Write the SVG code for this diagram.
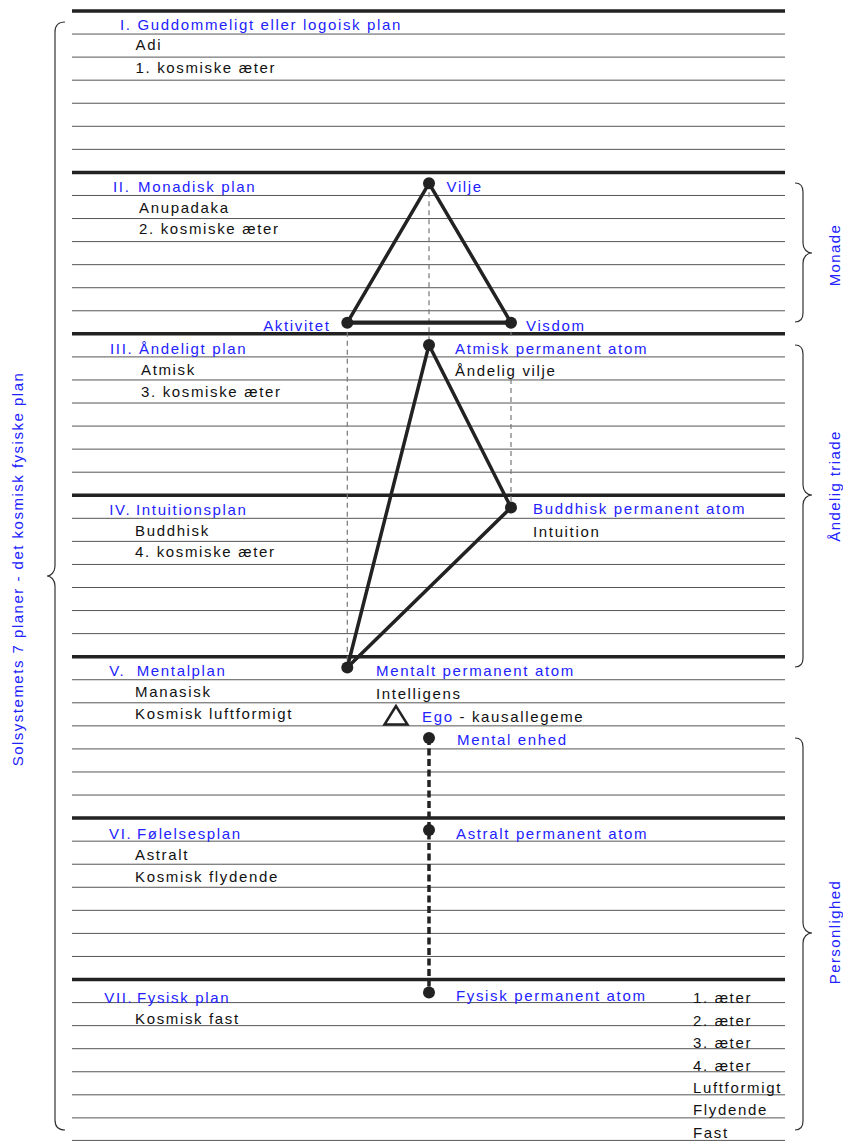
<svg xmlns="http://www.w3.org/2000/svg" width="843" height="1141" viewBox="0 0 843 1141">
<defs>
<style>
text{font-family:"Liberation Sans",Arial,sans-serif;font-size:15px;letter-spacing:1.65px}
.b{fill:#2222ff}
.k{fill:#111}
.thin{stroke:#555;stroke-width:1;fill:none}
.thick{stroke:#222;stroke-width:3.5;fill:none}
.brace{stroke:#333;stroke-width:1.2;fill:none}
.edge{stroke:#222;stroke-width:3.5;fill:none;stroke-linecap:round}
.guide{stroke:#777;stroke-width:1.2;stroke-dasharray:5 4;fill:none}
.chain{stroke:#222;stroke-width:3.5;stroke-dasharray:7 3.5;fill:none}
.dot{fill:#222}
.rl{letter-spacing:1.4px}
</style>
</defs>
<rect width="843" height="1141" fill="#fff"/>

<g id="plane-lines">
<path class="thin" d="M72,34.06H785M72,57.12H785M72,80.18H785M72,103.24H785M72,126.3H785M72,149.36H785
M72,195.48H785M72,218.54H785M72,241.6H785M72,264.66H785M72,287.72H785M72,310.78H785
M72,356.9H785M72,379.96H785M72,403.02H785M72,426.08H785M72,449.14H785M72,472.2H785
M72,518.32H785M72,541.38H785M72,564.44H785M72,587.5H785M72,610.56H785M72,633.62H785
M72,679.74H785M72,702.8H785M72,725.86H785M72,748.92H785M72,771.98H785M72,795.04H785
M72,841.16H785M72,864.22H785M72,887.28H785M72,910.34H785M72,933.4H785M72,956.46H785
M72,1002.58H785M72,1025.64H785M72,1048.7H785M72,1071.76H785M72,1094.82H785M72,1117.88H785M72,1140.4H785"/>
<path class="thick" d="M72,11H785M72,172.42H785M72,333.84H785M72,495.26H785M72,656.68H785M72,818.1H785M72,979.52H785"/>
</g>

<g id="plane-1">
<text class="b" x="120" y="30">I. Guddommeligt eller logoisk plan</text>
<text class="k" x="135.5" y="50">Adi</text>
<text class="k" x="135.5" y="73">1. kosmiske æter</text>
</g>
<g id="plane-2">
<text class="b" y="191.5"><tspan x="113">II.</tspan><tspan x="138">Monadisk plan</tspan></text>
<text class="k" x="139" y="212.5">Anupadaka</text>
<text class="k" x="139" y="234">2. kosmiske æter</text>
</g>
<g id="plane-3">
<text class="b" y="354"><tspan x="110">III.</tspan><tspan x="139">Åndeligt plan</tspan></text>
<text class="k" x="141" y="375">Atmisk</text>
<text class="k" x="141" y="397">3. kosmiske æter</text>
</g>
<g id="plane-4">
<text class="b" y="514.5"><tspan x="109.3">IV.</tspan><tspan x="136">Intuitionsplan</tspan></text>
<text class="k" x="135" y="535.5">Buddhisk</text>
<text class="k" x="135" y="557">4. kosmiske æter</text>
</g>
<g id="plane-5">
<text class="b" y="676"><tspan x="109.3">V.</tspan><tspan x="136.7">Mentalplan</tspan></text>
<text class="k" x="135" y="697">Manasisk</text>
<text class="k" x="135" y="718.5">Kosmisk luftformigt</text>
</g>
<g id="plane-6">
<text class="b" y="838.5"><tspan x="109">VI.</tspan><tspan x="137">Følelsesplan</tspan></text>
<text class="k" x="135" y="859.5">Astralt</text>
<text class="k" x="135" y="881.5">Kosmisk flydende</text>
</g>
<g id="plane-7">
<text class="b" y="1002.5"><tspan x="104.3">VII.</tspan><tspan x="137">Fysisk plan</tspan></text>
<text class="k" x="135" y="1023.5">Kosmisk fast</text>
<text class="k" x="693" y="1003">1. æter</text>
<text class="k" x="693" y="1025.5">2. æter</text>
<text class="k" x="693" y="1047.5">3. æter</text>
<text class="k" x="693" y="1070.5">4. æter</text>
<text class="k" x="693" y="1092.5">Luftformigt</text>
<text class="k" x="693" y="1115">Flydende</text>
<text class="k" x="693" y="1137.5">Fast</text>
</g>

<g id="connectors">
<line class="guide" x1="429" y1="183.3" x2="429" y2="345"/>
<line class="guide" x1="347.3" y1="322.7" x2="347.3" y2="667.5"/>
<line class="guide" x1="511" y1="322.7" x2="511" y2="336"/>
<line class="guide" x1="511" y1="379" x2="511" y2="507.5"/>
<line class="edge" x1="429" y1="183.3" x2="347.3" y2="322.7"/>
<line class="edge" x1="429" y1="183.3" x2="511" y2="322.7"/>
<line class="edge" x1="347.3" y1="322.7" x2="511" y2="322.7" style="stroke-width:4.2"/>
<line class="edge" x1="429" y1="345" x2="511" y2="507.5"/>
<line class="edge" x1="429" y1="345" x2="347.3" y2="667.5"/>
<line class="edge" x1="511" y1="507.5" x2="347.3" y2="667.5"/>
<line class="chain" x1="429" y1="738" x2="429" y2="992.5"/>
</g>

<g id="node-vilje"><circle class="dot" cx="429" cy="183.3" r="6"/><text class="b" x="446.5" y="191.5">Vilje</text></g>
<g id="node-aktivitet"><circle class="dot" cx="347.3" cy="322.7" r="6"/><text class="b" x="330.5" y="330.5" text-anchor="end">Aktivitet</text></g>
<g id="node-visdom"><circle class="dot" cx="511" cy="322.7" r="6"/><text class="b" x="526" y="330.5">Visdom</text></g>
<g id="node-atmisk"><circle class="dot" cx="429" cy="345" r="6"/><text class="b" x="455" y="354">Atmisk permanent atom</text><text class="k" x="455" y="376">Åndelig vilje</text></g>
<g id="node-buddhisk"><circle class="dot" cx="511" cy="507.5" r="6"/><text class="b" x="533" y="514">Buddhisk permanent atom</text><text class="k" x="533" y="536.5">Intuition</text></g>
<g id="node-mentalt"><circle class="dot" cx="347.3" cy="667.5" r="6"/><text class="b" x="376" y="676">Mentalt permanent atom</text><text class="k" x="376" y="698.5">Intelligens</text></g>
<g id="node-ego"><path d="M396,706L384.5,724.5H407.5Z" fill="none" stroke="#222" stroke-width="2.5" stroke-linejoin="miter"/><text x="422" y="722"><tspan class="b">Ego</tspan><tspan class="k"> - kausallegeme</tspan></text></g>
<g id="node-mental-enhed"><circle class="dot" cx="429" cy="738" r="6"/><text class="b" x="457" y="745">Mental enhed</text></g>
<g id="node-astralt"><circle class="dot" cx="429" cy="830" r="6"/><text class="b" x="456" y="838.5">Astralt permanent atom</text></g>
<g id="node-fysisk"><circle class="dot" cx="429" cy="992.5" r="6"/><text class="b" x="456" y="1001">Fysisk permanent atom</text></g>

<g id="brace-solsystem">
<path class="brace" d="M65,22C58,22 55,25 55,32L55,566C55,572 51,576 47,576C51,576 55,580 55,586L55,1120C55,1127 58,1130 65,1130"/>
<text class="b" transform="translate(23,569) rotate(-90)" text-anchor="middle" style="letter-spacing:1.5px">Solsystemets 7 planer - det kosmisk fysiske plan</text>
</g>
<g id="brace-monade">
<path class="brace" d="M795,183C800,183 803,186 803,192L803,243C803,249 807,253 812,253C807,253 803,257 803,263L803,313C803,319 800,322 795,322"/>
<text class="b rl" transform="translate(840,255) rotate(-90)" text-anchor="middle">Monade</text>
</g>
<g id="brace-triade">
<path class="brace" d="M795,345C800,345 803,348 803,354L803,485C803,491 807,495 812,495C807,495 803,499 803,505L803,658C803,664 800,667 795,667"/>
<text class="b rl" transform="translate(840,486) rotate(-90)" text-anchor="middle">Åndelig triade</text>
</g>
<g id="brace-personlighed">
<path class="brace" d="M795,738C800,738 803,741 803,747L803,923C803,929 807,933 812,933C807,933 803,937 803,943L803,1121C803,1127 800,1130 795,1130"/>
<text class="b rl" transform="translate(840,932) rotate(-90)" text-anchor="middle">Personlighed</text>
</g>
</svg>
